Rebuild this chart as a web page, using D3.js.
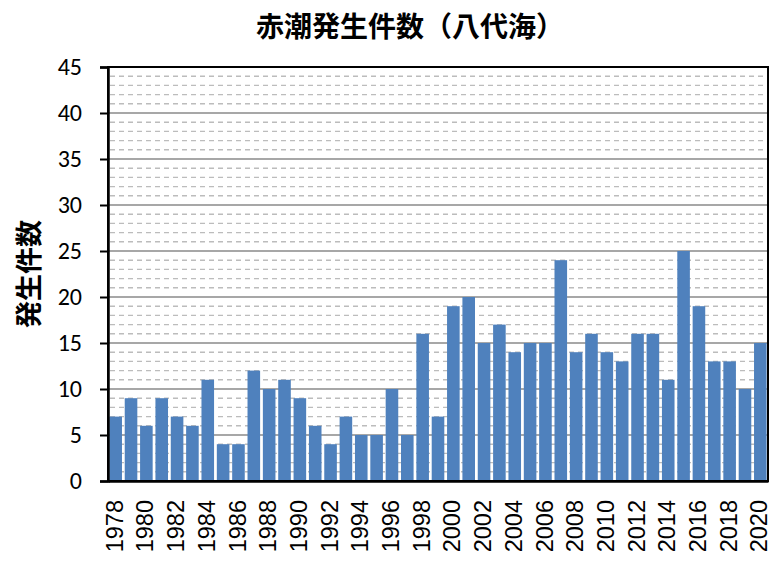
<!DOCTYPE html>
<html>
<head>
<meta charset="utf-8">
<script src="https://cdn.jsdelivr.net/npm/d3@7"></script>
<style>
  body { margin: 0; background: #fff; }
</style>
</head>
<body>
<div id="chart"></div>
<script>
var years = [1978, 1979, 1980, 1981, 1982, 1983, 1984, 1985, 1986, 1987,
             1988, 1989, 1990, 1991, 1992, 1993, 1994, 1995, 1996, 1997,
             1998, 1999, 2000, 2001, 2002, 2003, 2004, 2005, 2006, 2007,
             2008, 2009, 2010, 2011, 2012, 2013, 2014, 2015, 2016, 2017,
             2018, 2019, 2020];
var counts = [7, 9, 6, 9, 7, 6, 11, 4, 4, 12,
              10, 11, 9, 6, 4, 7, 5, 5, 10, 5,
              16, 7, 19, 20, 15, 17, 14, 15, 15, 24,
              14, 16, 14, 13, 16, 16, 11, 25, 19, 13,
              13, 10, 15];
var yTicks = [0, 5, 10, 15, 20, 25, 30, 35, 40, 45];
var yMinor = d3.range(0, 46, 1);
var xLabels = years.filter(function(d, i) { return i % 2 === 0; });
var title = "赤潮発生件数（八代海）";
var yTitle = "発生件数";

var config = {
  width: 772,
  height: 563,
  margin: { left: 108, top: 67, right: 4, bottom: 82 }
};

var w = config.width - config.margin.left - config.margin.right,
    h = config.height - config.margin.top - config.margin.bottom;

var svg = d3.select("#chart").append("svg")
    .attr("width", config.width)
    .attr("height", config.height);

var chart = svg.append("g")
    .attr("transform", "translate(" + config.margin.left + "," + config.margin.top + ")");

var x = d3.scaleBand()
    .domain(years)
    .range([0, w])
    .paddingInner(0.18)
    .paddingOuter(0.09);

var y = d3.scaleLinear()
    .domain([0, 45])
    .range([h, 0]);

// minor dashed grid
chart.append("g").selectAll("line")
    .data(yMinor.filter(function(d) { return d % 5 !== 0; }))
  .enter().append("line")
    .attr("x1", 2).attr("x2", w)
    .attr("y1", function(d) { return y(d); })
    .attr("y2", function(d) { return y(d); })
    .attr("stroke", "#bcbcbc")
    .attr("stroke-width", 1.4)
    .attr("stroke-dasharray", "5,4");

// major grid
chart.append("g").selectAll("line")
    .data(yTicks.slice(1))
  .enter().append("line")
    .attr("x1", 0).attr("x2", w)
    .attr("y1", function(d) { return y(d); })
    .attr("y2", function(d) { return y(d); })
    .attr("stroke", "#8a8a8a")
    .attr("stroke-width", 1.5);

// bars
chart.append("g").selectAll("rect")
    .data(counts)
  .enter().append("rect")
    .attr("x", function(d, i) { return x(years[i]); })
    .attr("y", function(d) { return y(d); })
    .attr("width", x.bandwidth())
    .attr("height", function(d) { return h - y(d); })
    .attr("fill", "#4f81bd");

// plot border
chart.append("rect")
    .attr("x", 0).attr("y", 0)
    .attr("width", w).attr("height", h)
    .attr("fill", "none")
    .attr("stroke", "#000")
    .attr("stroke-width", 2);

// y axis
var yAxis = chart.append("g")
    .call(d3.axisLeft(y).tickValues(yTicks).tickSize(8).tickPadding(18));
yAxis.select(".domain").attr("stroke-width", 2.5);
yAxis.selectAll(".tick line").attr("stroke-width", 2);
yAxis.selectAll("text")
    .attr("font-family", "Carlito, Calibri, Lato, sans-serif")
    .attr("font-size", "24px")
    .attr("fill", "#000");

// x axis
var xAxis = chart.append("g")
    .attr("transform", "translate(0," + h + ")")
    .call(d3.axisBottom(x).tickValues(xLabels).tickSize(0).tickPadding(0));
xAxis.select(".domain").attr("stroke-width", 2.5);
xAxis.selectAll("text")
    .attr("font-family", "'Liberation Sans', Arial, sans-serif")
    .attr("font-size", "23.5px")
    .attr("fill", "#000")
    .attr("transform", "rotate(-90)")
    .attr("x", -19)
    .attr("y", 0)
    .attr("dy", "0.3em")
    .attr("text-anchor", "end");

// titles
svg.append("text")
    .attr("x", 410)
    .attr("y", 37)
    .attr("text-anchor", "middle")
    .attr("font-family", "'Noto Sans CJK JP', sans-serif")
    .attr("font-weight", "bold")
    .attr("font-size", "28px")
    .text(title);

svg.append("text")
    .attr("transform", "translate(39,274) rotate(-90)")
    .attr("text-anchor", "middle")
    .attr("font-family", "'Noto Sans CJK JP', sans-serif")
    .attr("font-weight", "bold")
    .attr("font-size", "27px")
    .text(yTitle);
</script>
</body>
</html>
